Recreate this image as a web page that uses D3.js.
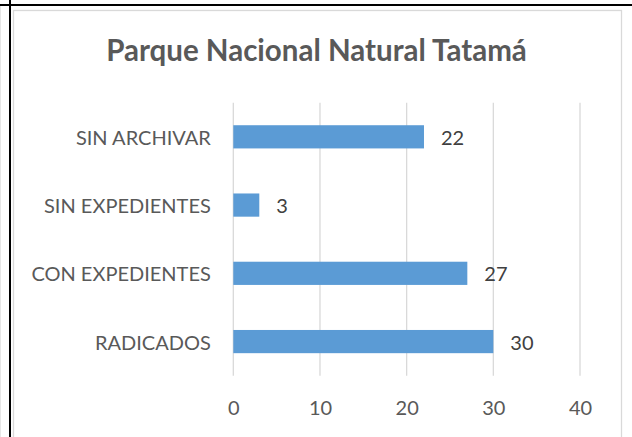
<!DOCTYPE html>
<html>
<head>
<meta charset="utf-8">
<script src="https://cdn.jsdelivr.net/npm/d3@7"></script>
<style>
  html, body { margin: 0; padding: 0; background: #fff; }
  svg { display: block; }
  text { font-family: Lato, "Open Sans", sans-serif; }
</style>
</head>
<body>
<div id="chart"></div>
<script>
// data
const categories = ['SIN ARCHIVAR', 'SIN EXPEDIENTES', 'CON EXPEDIENTES', 'RADICADOS'];
const values = [22, 3, 27, 30];
const xTicks = [0, 10, 20, 30, 40];
const title = 'Parque Nacional Natural Tatamá';

const width = 632;
const height = 437;
const margin = { top: 102.7, right: 52, bottom: 61.3, left: 233.3 };

const svg = d3.select('#chart')
  .append('svg')
  .attr('width', width)
  .attr('height', height);

// page frame lines (black) and chart area border (light gray)
svg.append('line')
  .attr('x1', 0).attr('x2', width).attr('y1', 5).attr('y2', 5)
  .attr('stroke', '#000').attr('stroke-width', 2);
svg.append('line')
  .attr('x1', 10).attr('x2', 10).attr('y1', 0).attr('y2', height)
  .attr('stroke', '#000').attr('stroke-width', 2);
svg.append('line')
  .attr('x1', 0.5).attr('x2', 0.5).attr('y1', 6).attr('y2', height)
  .attr('stroke', '#e6e6e6').attr('stroke-width', 1);
svg.append('rect')
  .attr('x', 13.5).attr('y', 10.5)
  .attr('width', 608).attr('height', height)
  .attr('fill', 'none')
  .attr('stroke', '#d9d9d9').attr('stroke-width', 1.3);

// scales
const x = d3.scaleLinear()
  .domain([0, 40])
  .range([margin.left, width - margin.right]);

const y = d3.scaleBand()
  .domain(categories)
  .range([margin.top, height - margin.bottom])
  .paddingInner(0.66)
  .paddingOuter(0.33);

// gridlines
svg.append('g')
  .selectAll('line')
  .data(xTicks)
  .join('line')
  .attr('x1', (d) => x(d)).attr('x2', (d) => x(d))
  .attr('y1', margin.top).attr('y2', height - margin.bottom)
  .attr('stroke', '#d9d9d9')
  .attr('stroke-width', 1.3);

// bars
svg.append('g')
  .selectAll('rect')
  .data(values)
  .join('rect')
  .attr('x', x(0))
  .attr('y', (d, i) => y(categories[i]))
  .attr('width', (d) => x(d) - x(0))
  .attr('height', y.bandwidth())
  .attr('fill', '#5b9bd5');

// value labels
svg.append('g')
  .selectAll('text')
  .data(values)
  .join('text')
  .attr('x', (d) => x(d) + 17)
  .attr('y', (d, i) => y(categories[i]) + y.bandwidth() / 2 + 8)
  .attr('fill', '#404040')
  .style('font-size', '20px')
  .text((d) => d);

// y axis (category labels only)
const yAxis = svg.append('g')
  .attr('transform', `translate(${margin.left - 22.5},0)`)
  .call(d3.axisLeft(y).tickSize(0).tickPadding(0));
yAxis.select('.domain').remove();
yAxis.selectAll('text')
  .attr('fill', '#595959')
  .attr('dy', null)
  .attr('y', 8)
  .style('font-size', '20px')
  .style('font-family', 'Lato, "Open Sans", sans-serif');

// x axis (tick labels only)
const xAxis = svg.append('g')
  .attr('transform', `translate(0,${height - margin.bottom})`)
  .call(d3.axisBottom(x).tickValues(xTicks).tickSize(0).tickPadding(0));
xAxis.select('.domain').remove();
xAxis.selectAll('text')
  .attr('fill', '#595959')
  .attr('dy', null)
  .attr('y', 39.3)
  .style('font-size', '20px')
  .style('font-family', 'Lato, "Open Sans", sans-serif');

// title
svg.append('text')
  .attr('x', 316.5)
  .attr('y', 60.7)
  .attr('text-anchor', 'middle')
  .attr('fill', '#595959')
  .style('font-size', '29.5px')
  .style('font-weight', 'bold')
  .text(title);
</script>
</body>
</html>
